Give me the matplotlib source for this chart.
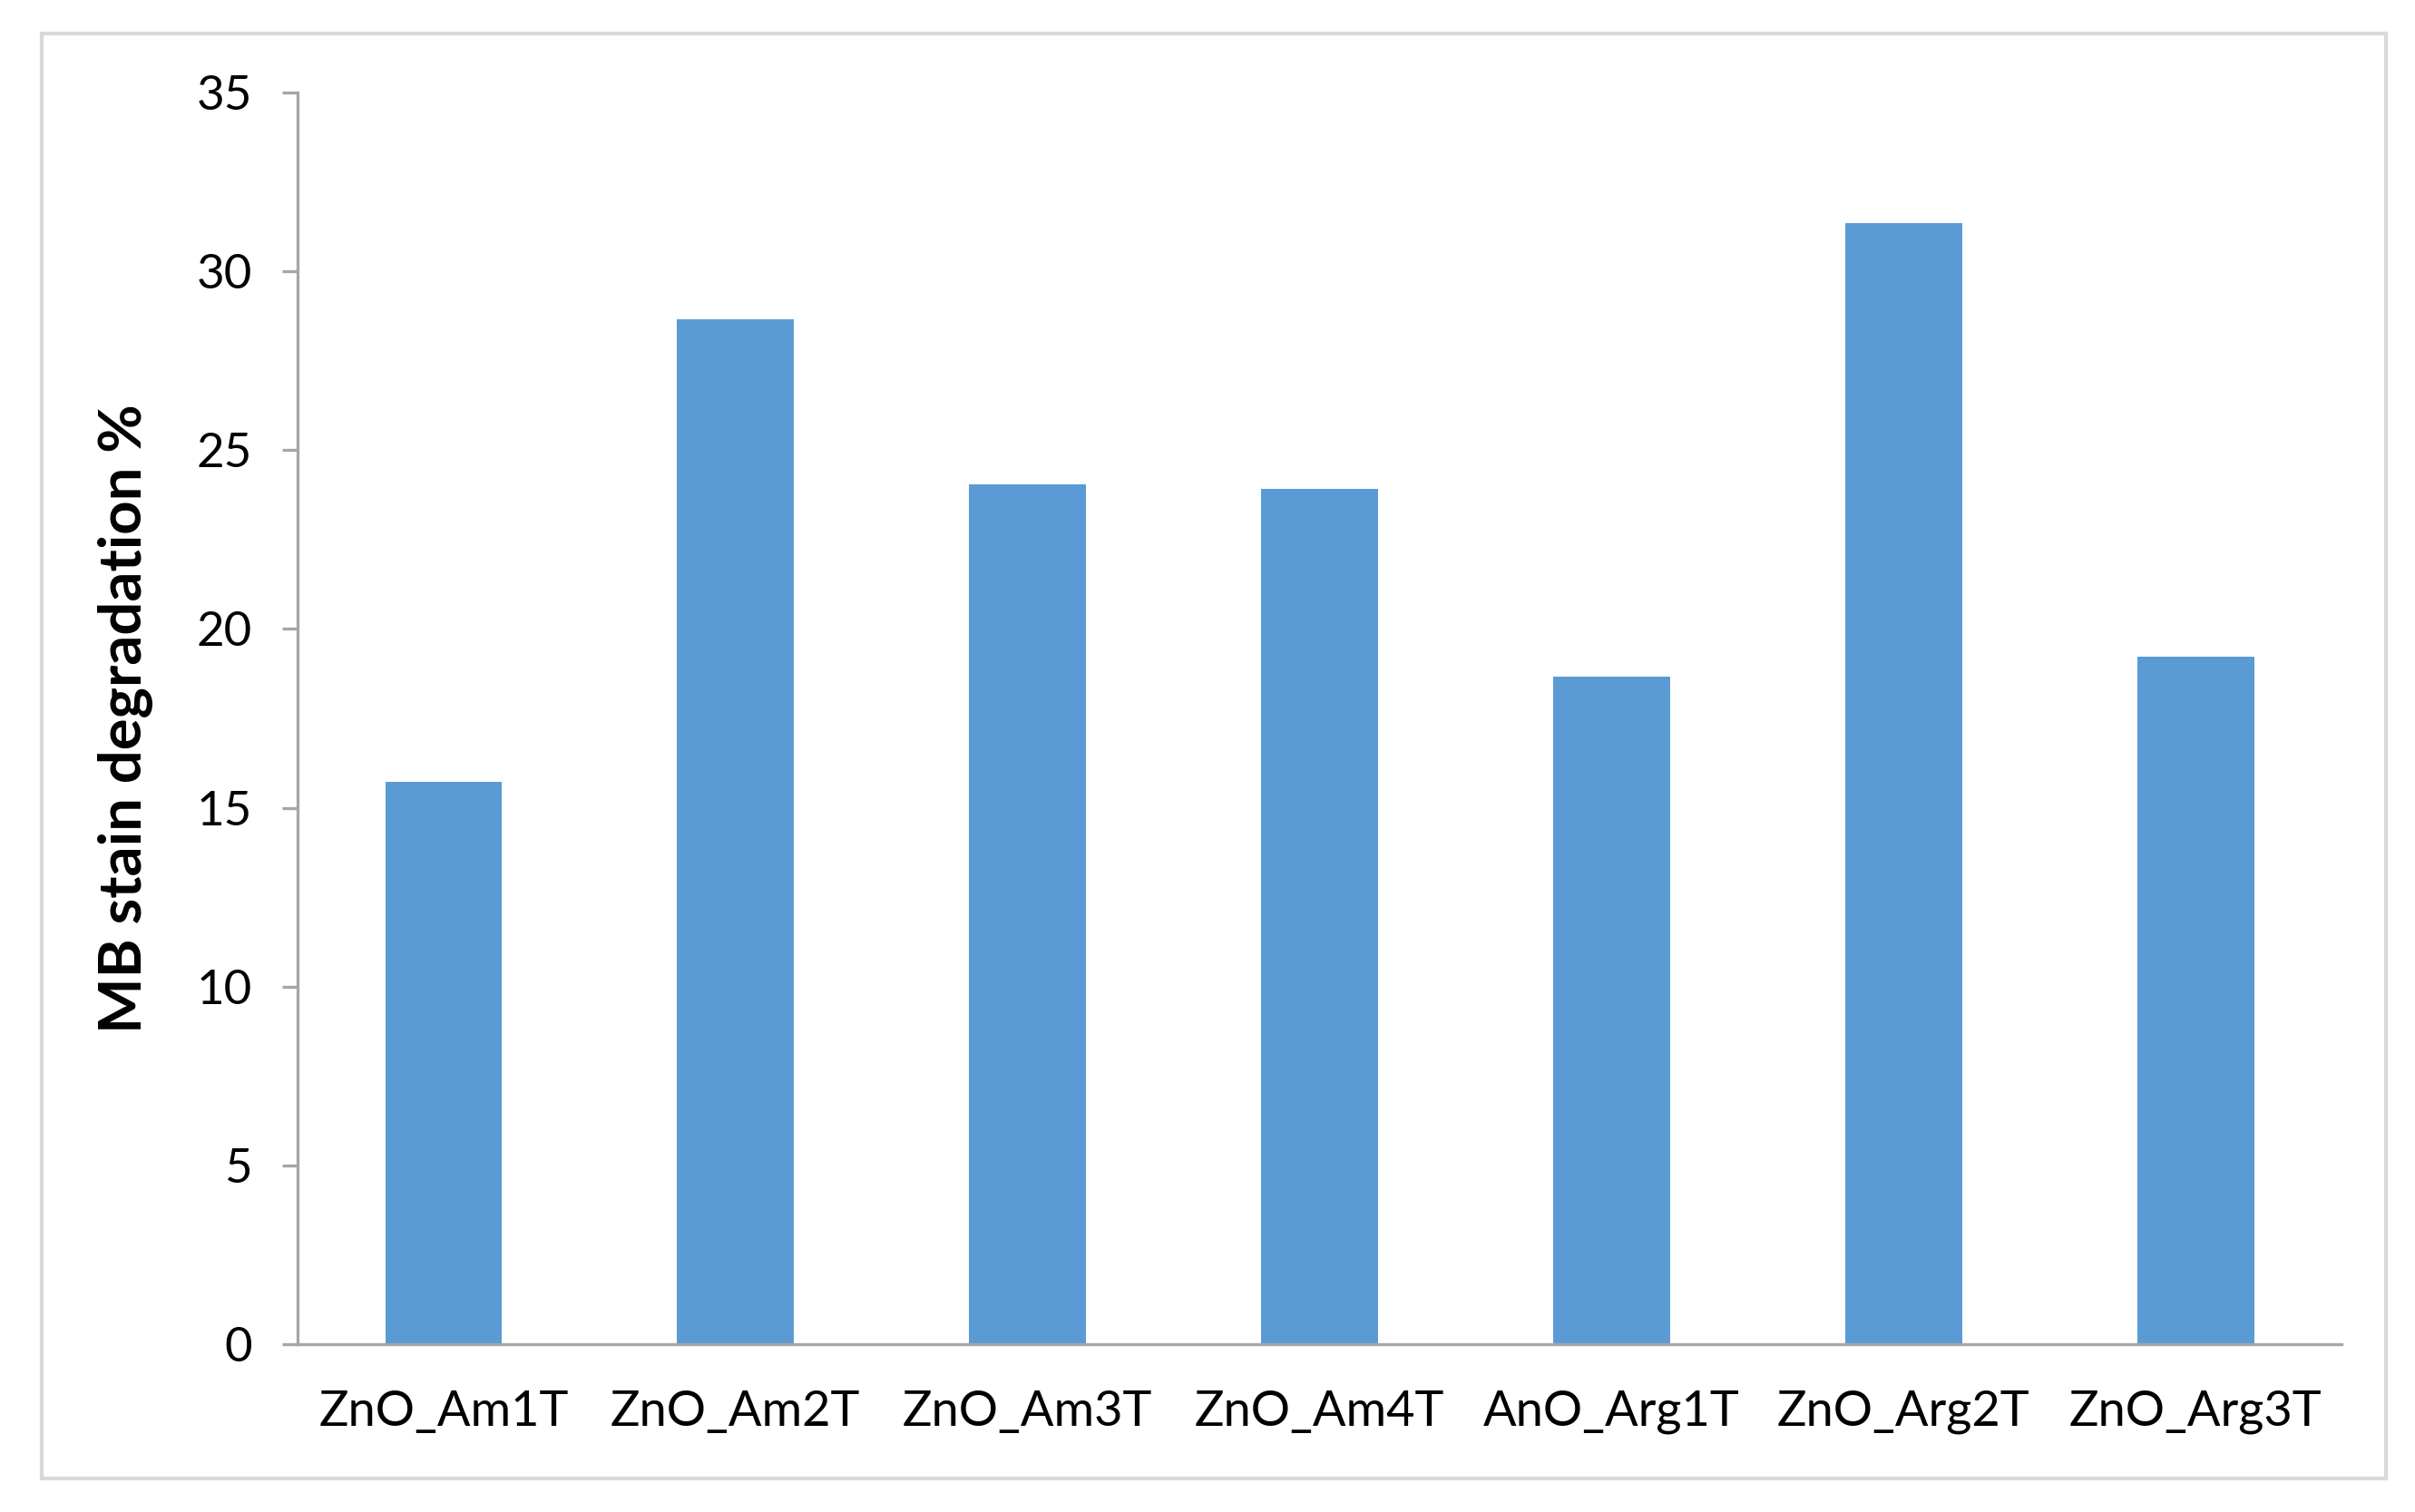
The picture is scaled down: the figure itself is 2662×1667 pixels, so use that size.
import numpy as np
import matplotlib.pyplot as plt
from matplotlib.patches import Rectangle

# bar data
samples = ['ZnO_Am1T', 'ZnO_Am2T', 'ZnO_Am3T', 'ZnO_Am4T', 'AnO_Arg1T', 'ZnO_Arg2T', 'ZnO_Arg3T']
degradation = [15.73, 28.67, 24.04, 23.92, 18.66, 31.36, 19.22]
yticks = [0, 5, 10, 15, 20, 25, 30, 35]

plt.rcParams['font.family'] = ['Lato', 'DejaVu Sans']

fig = plt.figure(figsize=(26.62, 16.67), dpi=100)
ax = fig.add_axes([0.1232, 0.111, 0.8464, 0.8278])

x = np.arange(len(samples))
ax.bar(x, degradation, width=0.4, color='#5B9BD5', zorder=2)

ax.set_xlim(-0.5, len(samples) - 0.5)
ax.set_ylim(0, 35)
ax.set_yticks(yticks)
ax.set_xticks(x)
ax.set_xticklabels(samples, fontsize=39)
ax.tick_params(axis='y', labelsize=38, length=12, width=2.4, color='#A6A6A6', pad=24)
ax.tick_params(axis='x', length=0, pad=36)

for s in ['top', 'right']:
    ax.spines[s].set_visible(False)
for s in ['left', 'bottom']:
    ax.spines[s].set_color('#A6A6A6')
    ax.spines[s].set_linewidth(2.4)

ax.set_ylabel('MB stain degradation %', fontsize=47, fontweight='bold', labelpad=34)

# light grey frame round the chart area
fig.patches.append(Rectangle((46 / 2662, 1 - 1630 / 1667), (2630 - 46) / 2662, (1630 - 37) / 1667,
                             transform=fig.transFigure, fill=False, edgecolor='#D9D9D9', linewidth=3))

fig.savefig('out.png', dpi=100)
